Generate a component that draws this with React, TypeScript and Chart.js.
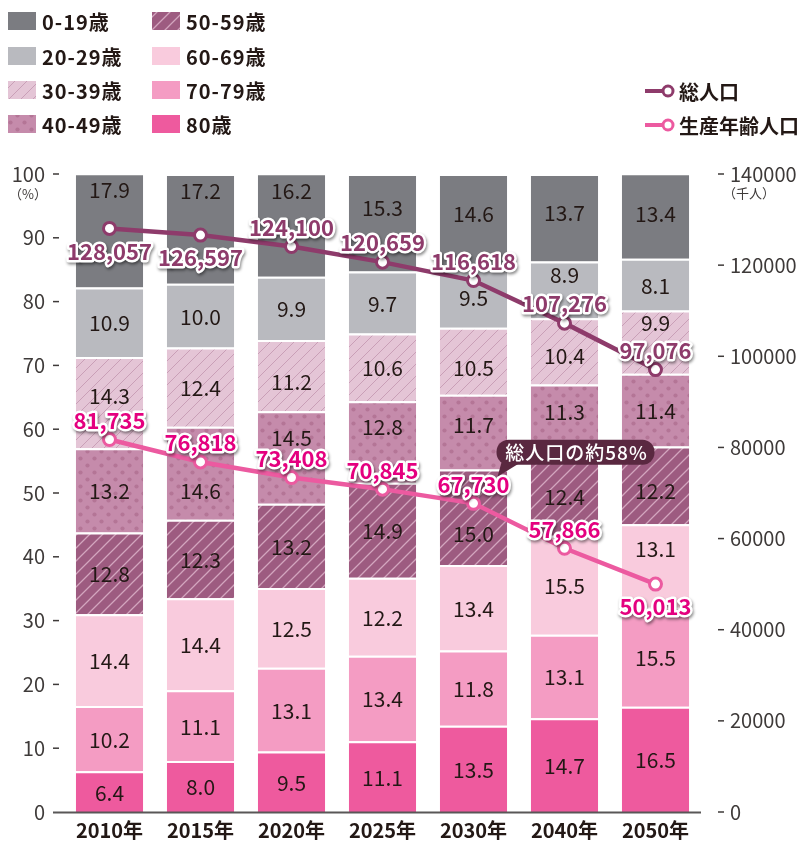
import React, { useEffect, useRef } from "react";
import { Chart, registerables } from "chart.js";

Chart.register(...registerables);

const years = ["2010年", "2015年", "2020年", "2025年", "2030年", "2040年", "2050年"];
const age80 = [6.4, 8.0, 9.5, 11.1, 13.5, 14.7, 16.5];
const age70 = [10.2, 11.1, 13.1, 13.4, 11.8, 13.1, 15.5];
const age60 = [14.4, 14.4, 12.5, 12.2, 13.4, 15.5, 13.1];
const age50 = [12.8, 12.3, 13.2, 14.9, 15.0, 12.4, 12.2];
const age40 = [13.2, 14.6, 14.5, 12.8, 11.7, 11.3, 11.4];
const age30 = [14.3, 12.4, 11.2, 10.6, 10.5, 10.4, 9.9];
const age20 = [10.9, 10.0, 9.9, 9.7, 9.5, 8.9, 8.1];
const age0 = [17.9, 17.2, 16.2, 15.3, 14.6, 13.7, 13.4];
const totalPop = [128057, 126597, 124100, 120659, 116618, 107276, 97076];
const workingPop = [81735, 76818, 73408, 70845, 67730, 57866, 50013];
const leftTicks = [0, 10, 20, 30, 40, 50, 60, 70, 80, 90, 100];
const rightTicks = [0, 20000, 40000, 60000, 80000, 100000, 120000, 140000];
const calloutText = "総人口の約58%";
const calloutAnchorPct = 56.4;

// label placement (style, not data)
const totalSide = [1, 1, -1, -1, -1, -1, -1];
const workingSide = [-1, -1, -1, -1, -1, -1, 1];
const barNudge: Record<number, number[]> = {
  7: [-42, -39, -35, -16, -8, -6, -3],
  6: [0, 0, 0, 0, 0, -16, 0],
  5: [-8, 0, 5, 0, 6, 4, -20],
  4: [0, 17, -21, -16, -8, -10, 0],
  3: [0, 0, 0, 0, 16, 0, 5],
  2: [0, 0, 0, 0, 0, 0, -18],
};

const FONT = '"Noto Sans CJK JP", "Noto Sans", sans-serif';
const TOTAL_COLOR = "#8e3b6b";
const WORK_COLOR = "#ec5aa0";
const TOTAL_LABEL = "#8e3b6b";
const WORK_LABEL = "#e4007f";
const TEXT = "#231815";

function hatch(bg: string, line: string, size: number, lw: number) {
  const c = document.createElement("canvas");
  c.width = size;
  c.height = size;
  const g = c.getContext("2d")!;
  g.fillStyle = bg;
  g.fillRect(0, 0, size, size);
  g.strokeStyle = line;
  g.lineWidth = lw;
  g.beginPath();
  g.moveTo(0, size);
  g.lineTo(size, 0);
  g.moveTo(-size, size);
  g.lineTo(size, -size);
  g.moveTo(0, 2 * size);
  g.lineTo(2 * size, 0);
  g.stroke();
  return g.createPattern(c, "repeat")!;
}

function dots(bg: string, dot: string, size: number, r: number) {
  const c = document.createElement("canvas");
  c.width = size;
  c.height = size;
  const g = c.getContext("2d")!;
  g.fillStyle = bg;
  g.fillRect(0, 0, size, size);
  g.fillStyle = dot;
  for (const [x, y] of [
    [size / 4, size / 4],
    [(3 * size) / 4, (3 * size) / 4],
  ]) {
    g.beginPath();
    g.arc(x, y, r, 0, Math.PI * 2);
    g.fill();
  }
  return g.createPattern(c, "repeat")!;
}

export default function App() {
  const ref = useRef<HTMLCanvasElement | null>(null);

  useEffect(() => {
    document.body.style.margin = "0";
    const canvas = ref.current!;
    const p30 = hatch("#e4c5d6", "#c99fb7", 12, 1);
    const p40 = dots("#c58bab", "#b47596", 14, 2.1);
    const p50 = hatch("#9d5b80", "rgba(255,225,240,0.55)", 13, 1.3);

    const barSeries = [
      { label: "80歳", data: age80, bg: "#ee5a9e" as any },
      { label: "70-79歳", data: age70, bg: "#f49cc3" as any },
      { label: "60-69歳", data: age60, bg: "#f9cbdd" as any },
      { label: "50-59歳", data: age50, bg: p50 as any },
      { label: "40-49歳", data: age40, bg: p40 as any },
      { label: "30-39歳", data: age30, bg: p30 as any },
      { label: "20-29歳", data: age20, bg: "#b9babf" as any },
      { label: "0-19歳", data: age0, bg: "#7b7c81" as any },
    ];
    const nLines = 2;

    const decor = {
      id: "decor",
      afterDatasetDraw(chart: any, args: any) {
        const meta = args.meta;
        if (meta.type !== "bar") return;
        const si = args.index - nLines;
        const ctx = chart.ctx;
        const top = chart.chartArea.top;
        ctx.save();
        ctx.font = `400 21px ${FONT}`;
        ctx.fillStyle = TEXT;
        ctx.textAlign = "center";
        ctx.textBaseline = "middle";
        const ds = chart.data.datasets[args.index];
        meta.data.forEach((el: any, i: number) => {
          const y = Math.max(el.y, top);
          const mid = (y + el.base) / 2 + ((barNudge[si] || [])[i] || 0);
          ctx.fillText((ds.data[i] as number).toFixed(1), el.x, mid + 1);
        });
        ctx.restore();
      },
      afterDatasetsDraw(chart: any) {
        const ctx = chart.ctx;
        const { chartArea } = chart;
        const x = chart.scales.x;
        const y = chart.scales.y;
        const y1 = chart.scales.y1;

        // line labels
        const drawLabels = (metaIdx: number, vals: number[], side: number[], color: string) => {
          const meta = chart.getDatasetMeta(metaIdx);
          ctx.save();
          ctx.font = `700 22px ${FONT}`;
          ctx.textAlign = "center";
          ctx.textBaseline = "middle";
          ctx.lineJoin = "round";
          meta.data.forEach((pt: any, i: number) => {
            const txt = vals[i].toLocaleString("en-US");
            const ly = pt.y + (side[i] > 0 ? 23 : -19);
            ctx.shadowColor = "rgba(0,0,0,0.45)";
            ctx.shadowBlur = 3;
            ctx.shadowOffsetX = 1;
            ctx.shadowOffsetY = 2;
            ctx.strokeStyle = "#ffffff";
            ctx.lineWidth = 5;
            ctx.strokeText(txt, pt.x, ly);
            ctx.shadowColor = "transparent";
            ctx.fillStyle = color;
            ctx.fillText(txt, pt.x, ly);
          });
          ctx.restore();
        };
        drawLabels(0, totalPop, totalSide, TOTAL_LABEL);
        drawLabels(1, workingPop, workingSide, WORK_LABEL);

        // baseline axis
        ctx.save();
        ctx.strokeStyle = "#595757";
        ctx.lineWidth = 2;
        ctx.beginPath();
        ctx.moveTo(chartArea.left - 11, chartArea.bottom + 0.5);
        ctx.lineTo(chartArea.right, chartArea.bottom + 0.5);
        ctx.stroke();

        // tick dashes
        ctx.strokeStyle = "#3e3a39";
        ctx.lineWidth = 1.5;
        y.ticks.forEach((t: any) => {
          const py = y.getPixelForValue(t.value);
          if (t.value === 0) return;
          ctx.beginPath();
          ctx.moveTo(chartArea.left - 11, py);
          ctx.lineTo(chartArea.left - 5, py);
          ctx.stroke();
        });
        y1.ticks.forEach((t: any) => {
          const py = y1.getPixelForValue(t.value);
          ctx.beginPath();
          ctx.moveTo(chartArea.right + 17, py);
          ctx.lineTo(chartArea.right + 23, py);
          ctx.stroke();
        });

        // unit labels
        ctx.fillStyle = "#3e3a39";
        ctx.font = `400 13px ${FONT}`;
        ctx.textAlign = "center";
        ctx.textBaseline = "middle";
        ctx.fillText("（%）", 28, y.getPixelForValue(100) + 20);
        ctx.fillText("（千人）", 749, y1.getPixelForValue(140000) + 19);

        // callout
        const cx0 = x.getPixelForValue(4) + 23;
        const cw = 158;
        const ch = 25;
        const cyMid = y.getPixelForValue(calloutAnchorPct);
        const cy0 = cyMid - ch / 2;
        ctx.fillStyle = "#5a2840";
        ctx.beginPath();
        ctx.roundRect(cx0, cy0, cw, ch, 12);
        ctx.fill();
        ctx.beginPath();
        ctx.moveTo(cx0 + 6, cy0 + ch - 6);
        ctx.lineTo(cx0 + 22, cy0 + ch - 1);
        ctx.lineTo(cx0 + 1, cy0 + ch + 12);
        ctx.closePath();
        ctx.fill();
        ctx.fillStyle = "#ffffff";
        ctx.font = `500 19px ${FONT}`;
        (ctx as any).letterSpacing = "1px";
        ctx.fillText(calloutText, cx0 + cw / 2 + 1, cyMid + 1);
        ctx.restore();

        // legend (bars)
        ctx.save();
        ctx.textAlign = "left";
        ctx.textBaseline = "middle";
        ctx.font = `700 20px ${FONT}`;
        (ctx as any).letterSpacing = "1px";
        const legendOrder = [7, 6, 5, 4, 3, 2, 1, 0];
        const rowsY = [21, 56, 90, 124];
        legendOrder.forEach((si, k) => {
          const col = Math.floor(k / 4);
          const row = k % 4;
          const bx = col === 0 ? 8 : 152;
          const by = rowsY[row];
          ctx.fillStyle = barSeries[si].bg;
          ctx.fillRect(bx, by - 9, 28, 18);
          ctx.fillStyle = TEXT;
          ctx.fillText(barSeries[si].label, bx + 34, by + 1);
        });

        // legend (lines)
        const lineLeg = [
          { label: "総人口", color: TOTAL_COLOR, y: 91 },
          { label: "生産年齢人口", color: WORK_COLOR, y: 125 },
        ];
        lineLeg.forEach((l) => {
          ctx.strokeStyle = l.color;
          ctx.lineWidth = 4;
          ctx.beginPath();
          ctx.moveTo(645, l.y);
          ctx.lineTo(664, l.y);
          ctx.stroke();
          ctx.fillStyle = "#fff";
          ctx.lineWidth = 3;
          ctx.beginPath();
          ctx.arc(668, l.y, 5, 0, Math.PI * 2);
          ctx.fill();
          ctx.stroke();
          ctx.fillStyle = TEXT;
          (ctx as any).letterSpacing = "0px";
          ctx.font = `700 20px ${FONT}`;
          ctx.fillText(l.label, 679, l.y + 1);
        });
        ctx.restore();
      },
    };

    const noVPad = (w: number) => (s: any) => {
      s.width = w;
      s.paddingTop = 0;
      s.paddingBottom = 0;
    };

    const chart = new Chart(canvas, {
      type: "bar",
      data: {
        labels: years,
        datasets: [
          {
            type: "line",
            label: "総人口",
            data: totalPop,
            yAxisID: "y1",
            borderColor: TOTAL_COLOR,
            borderWidth: 4.5,
            pointRadius: 6,
            pointBorderWidth: 3,
            pointBackgroundColor: "#ffffff",
            pointBorderColor: TOTAL_COLOR,
            order: 0,
          } as any,
          {
            type: "line",
            label: "生産年齢人口",
            data: workingPop,
            yAxisID: "y1",
            borderColor: WORK_COLOR,
            borderWidth: 4.5,
            pointRadius: 6,
            pointBorderWidth: 3,
            pointBackgroundColor: "#ffffff",
            pointBorderColor: WORK_COLOR,
            order: 0,
          } as any,
          ...barSeries.map((s) => ({
            type: "bar",
            label: s.label,
            data: s.data,
            backgroundColor: s.bg,
            borderColor: "#ffffff",
            borderWidth: { top: 2, bottom: 0, left: 0, right: 0 },
            borderSkipped: false,
            yAxisID: "y",
            stack: "s",
            order: 1,
            categoryPercentage: 1,
            barPercentage: 0.74,
          })) as any,
        ],
      },
      options: {
        responsive: false,
        animation: false,
        layout: { padding: { top: 174, left: 0, right: 0, bottom: 0 } },
        plugins: { legend: { display: false }, tooltip: { enabled: false } },
        scales: {
          x: {
            stacked: true,
            grid: { display: false, drawTicks: false },
            border: { display: false },
            ticks: { font: { family: FONT, size: 20, weight: "bold" }, color: TEXT, padding: 6 },
            afterFit: (s: any) => {
              s.height = 31;
              s.paddingLeft = 0;
              s.paddingRight = 0;
            },
          },
          y: {
            stacked: true,
            min: 0,
            max: 100,
            afterBuildTicks: (s: any) => {
              s.ticks = leftTicks.map((v) => ({ value: v }));
            },
            ticks: {
              font: { family: FONT, size: 20 },
              color: "#3e3a39",
              padding: 19,
              callback: (v: any) => String(v),
            },
            grid: { display: false, drawTicks: false },
            border: { display: false },
            afterFit: noVPad(64),
          },
          y1: {
            position: "right",
            min: 0,
            max: 140000,
            afterBuildTicks: (s: any) => {
              s.ticks = rightTicks.map((v) => ({ value: v }));
            },
            ticks: {
              font: { family: FONT, size: 20 },
              color: "#3e3a39",
              padding: 29,
              callback: (v: any) => String(v),
            },
            grid: { display: false, drawTicks: false },
            border: { display: false },
            afterFit: noVPad(106),
          },
        },
      } as any,
      plugins: [decor],
    });
    return () => chart.destroy();
  }, []);

  return (
    <div style={{ width: 807, height: 843 }}>
      <canvas ref={ref} width={807} height={843} style={{ display: "block", width: 807, height: 843 }} />
    </div>
  );
}
